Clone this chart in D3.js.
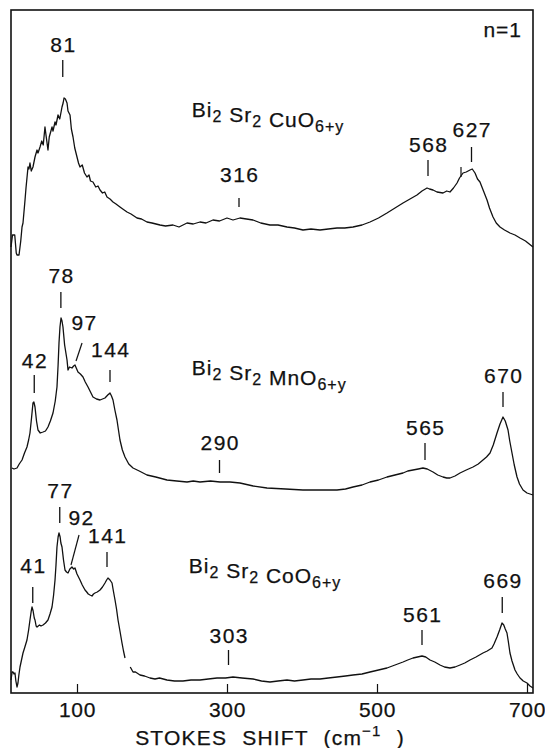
<!DOCTYPE html>
<html>
<head>
<meta charset="utf-8">
<script src="https://cdn.jsdelivr.net/npm/d3@7"></script>
<style>
  html, body { margin: 0; padding: 0; background: #fff; }
  svg { display: block; }
  text { font-family: "Liberation Sans", Arial, Helvetica, sans-serif; fill: #111; stroke: #111; stroke-width: 0.25px; }
</style>
</head>
<body>
<svg id="chart" width="545" height="748"></svg>
<script>
// ---- data (x: Stokes shift in cm^-1, y: intensity in arbitrary units, spectra vertically offset) ----
const xTicks = [100, 300, 500, 700];
const xTickLabels = ["100", "300", "500", "700"];

const cuSpectrum = [
  [12,446],[14,458],[17,458],[19,440],[20,438],[22.7,438],[25,452],[26.7,466],[28,470],[30.7,493],[32,505],[34.7,526],[36,524],[37.3,530],[39,522],[41.3,526],
  [44,536],[46.7,543],[48,540],[50.7,546],[53,552],[55,548],[57.3,566],[59,556],[61.3,543],[63,556],[66.7,566],[68,562],[70.7,571],[72,568],[74.7,578],[77,574],
  [80,586],[81.5,590],[82.7,595],[84.5,594],[86.7,590],[88,582],[90.7,578],[92.5,564],[94.7,556],[97,545],[100,536],[102,530],[104,526],[107,528],[110,520],[113.3,516],
  [116,518],[118,512],[121.3,511],[125,506],[128,507],[130.7,503],[134,500],[137,501],[140,496],[144,494],[148,491],[152,489],[157.3,486],[161,484],[166.7,481],
  [172,479],[180,475],[186,474],[193.3,471],[200,470],[210.7,468],[218,467],[228,468],[236,466],[246.7,470],[255,469],[264,471],[272,470],[281.3,473],[290,472],
  [300,475],[308,473],[317.3,475],[326,474],[334.7,473],[345,470],[357.3,468],[368,468],[380,466],[390,465],[401.3,463],[412,464],[424,463],[435,464],
  [446.7,465],[457,465],[468,466],[480,468],[490.7,471],[502,475],[513.3,480],[524,485],[534.7,490],[544,494],[553.3,498],[560,502],[566.7,505],[570,504],
  [574.7,503],[580,501],[588,500],[593,502],[597.3,501],[602,505],[606.7,510],[610,515],[614.7,520],[619,521],[624,523],[627,524],[630.7,520],[634,514],
  [637.3,511],[642,502],[646.7,493],[650,485],[654.7,476],[659,470],[664,466],[670,463],[677.3,460],[684,458],[690.7,455],[698,452],[703,449],[708,446]
];

const mnSpectrum = [
  [13.3,225],[16,224],[20,225],[23,229],[26.7,233],[30,240],[33.3,246],[35.5,253],[37.3,260],[39.5,276],[41.3,290],[42.5,291],[44,286],[46,272],[48,263],
  [51,260],[54.7,261],[58,262],[61.3,266],[64.5,272],[68,280],[71,292],[73.3,306],[74.8,328],[76,350],[77.3,366],[78.7,375],[80,372],[81.3,366],[83.5,348],
  [86.7,333],[88,323],[90,326],[93.3,325],[95.5,327],[97.3,328],[99,325],[101.3,321],[104.5,319],[108,316],[111,311],[114.7,306],[118,301],[121.3,296],
  [126,294],[130.7,293],[134,294],[137.3,295],[141,298],[144,300],[146,297],[148,293],[150.5,283],[153.3,273],[155.5,262],[157.3,253],[160.5,243],[164,236],
  [169,229],[174.7,225],[183,222],[193.3,218],[205,216],[220,213],[233,212],[246.7,211],[255,212],[264,211],[278,212],[290.7,211],[304,211],[317.3,210],
  [335,207],[353.3,205],[378,204],[401.3,203],[425,203],[446.7,203],[458,204],[468,206],[480,208],[490.7,211],[502,213],[513.3,216],[524,218],[534.7,220],
  [541,222],[548,223],[555,224],[561.3,225],[567,224],[574.7,221],[581,218],[588,216],[593,215],[597.3,215],[604,217],[610.7,220],[619,223],[628,226],
  [635,229],[641.3,233],[646,236],[650.7,240],[655,248],[660,260],[664,269],[668,276],[671,272],[674.7,263],[677,252],[680,240],[683,228],[686.7,216],
  [690,209],[694.7,203],[700,200],[708,198]
];

// null marks the gap in the recorded CoO spectrum
const coSpectrum = [
  [12,13],[13.5,21],[14.7,21],[16,19],[17.3,20],[18.5,12],[20,6],[21.3,10],[22.5,18],[24,26],[26,33],[28,40],[30.5,46],[33.3,53],[35.5,63],[37.3,73],[39,82],
  [40,86],[41.5,82],[43,75],[44,73],[45.5,67],[46.7,66],[50,68],[52,67],[54.7,68],[58,70],[61.3,73],[64,79],[66.7,86],[68.8,98],[70.7,113],[72,128],[73.3,146],
  [74.8,156],[76,160],[77.5,156],[78.5,150],[80,146],[82,133],[84,123],[86,121],[88,120],[90.5,124],[93.3,126],[95.5,124],[97.3,125],[100,119],[102,116],
  [104,113],[107,108],[110.7,103],[113,101],[115,99],[117.3,98],[120,97],[122,99],[124,100],[127,101],[130.7,103],[134,106],[137.3,110],[139.5,113],[141.3,115],
  [144,113],[146.7,110],[148.5,102],[150.7,93],[152.7,84],[154.7,73],[157.5,61],[160,50],[162,42],[164,35],
  null,
  [171,26],[174.7,21],[178,21],[184,18],[190,17],[197.3,15],[204,14],[210,15],[220,13],[230,12],[241.3,12],[252,13],[264,13],[275,14],[286.7,15],[298,15],
  [308,16],[320,15],[334.7,14],[346,12],[357.3,11],[368,12],[380,13],[390,12],[401.3,13],[412,14],[424,14],[435,15],[446.7,16],[458,17],[468,18],[480,19],
  [490.7,21],[502,23],[513.3,25],[524,28],[534.7,31],[541,33],[548,35],[554,36],[560,37],[565,36],[570.7,33],[577,31],[584,28],[590,26],[597.3,25],[604,26],
  [610.7,28],[617,30],[624,33],[632,36],[641.3,40],[647,42],[653.3,45],[656,49],[660,56],[663.5,63],[666.7,70],[669,68],[671,64],[673.3,60],[675,52],[677.3,40],
  [680,32],[684,23],[687,19],[690.7,15],[695,12],[700,10],[704,7],[708,5]
];

// peak annotations: label, tick position (cm^-1), tick start/end intensity, label baseline
const peakLabels = ["81", "316", "568", "627", "42", "78", "144", "290", "565", "670", "41", "77", "141", "303", "561", "669"];
const peakX      = [81, 316, 568, 626, 43, 78.5, 144, 290, 564, 668, 41, 77, 140, 302, 560, 667];
const tickLow    = [616, 486, 517, 531, 300, 385, 311, 220, 233, 286, 90, 170, 126, 28, 48, 80];
const tickHigh   = [633, 495, 533, 546, 318, 401, 323, 233, 250, 301, 106, 186, 141, 43, 63, 96];
const labelY     = [641, 511, 541, 556, 325, 410, 336, 243, 258, 310, 120, 195, 150, 50, 71, 105];

// slanted leader labels
const slantLabels = ["97", "92"];
const slantLabelX = [110, 106];
const slantLabelY = [363, 168];
const slantFrom   = [[106.7, 350], [102.7, 158]];
const slantTo     = [[98.7, 332], [92, 128]];

// unlabeled shoulder mark in the CuO spectrum
const extraTickX = [612];
const extraTickLow = [516];
const extraTickHigh = [526];

// compound names: [main, subscript] pairs
const compoundParts = [
  [["Bi","2"],[" Sr","2"],[" CuO","6+y"]],
  [["Bi","2"],[" Sr","2"],[" MnO","6+y"]],
  [["Bi","2"],[" Sr","2"],[" CoO","6+y"]]
];
const compoundX = [253, 253, 249];
const compoundY = [576, 318, 120];

// ---- drawing ----
const svg = d3.select("#chart");
const mLeft = 11, mRight = 533, mTop = 10, mBottom = 693;
const x = d3.scaleLinear().domain([12, 708]).range([mLeft, mRight]);
const y = d3.scaleLinear().domain([0, 683]).range([mBottom, mTop]);

const line = d3.line()
  .defined(d => d !== null)
  .x(d => x(d[0])).y(d => y(d[1]));

[cuSpectrum, mnSpectrum, coSpectrum].forEach(s => {
  svg.append("path").datum(s)
    .attr("d", line)
    .attr("fill", "none")
    .attr("stroke", "#111")
    .attr("stroke-width", 1.3)
    .attr("stroke-linejoin", "round");
});

// frame
svg.append("rect")
  .attr("x", mLeft).attr("y", mTop)
  .attr("width", mRight - mLeft).attr("height", mBottom - mTop)
  .attr("fill", "none").attr("stroke", "#111").attr("stroke-width", 1.6);

// bottom axis with inward ticks
const axis = d3.axisBottom(x)
  .tickValues(xTicks)
  .tickFormat((d, i) => xTickLabels[i])
  .tickSizeInner(-9).tickSizeOuter(0).tickPadding(9);
const gAxis = svg.append("g").attr("transform", `translate(0,${mBottom})`).call(axis);
gAxis.select(".domain").remove();
gAxis.selectAll(".tick line").attr("stroke", "#111").attr("stroke-width", 1.2);
gAxis.selectAll(".tick text")
  .attr("font-size", 21).attr("letter-spacing", 0.6)
  .attr("font-family", "'Liberation Sans', Arial, sans-serif")
  .attr("fill", "#111");

// axis title
const title = svg.append("text")
  .attr("x", 270).attr("y", 745)
  .attr("text-anchor", "middle")
  .attr("font-size", 21)
  .attr("letter-spacing", 1.2)
  .attr("word-spacing", 8);
title.append("tspan").text("STOKES SHIFT (cm");
title.append("tspan").attr("font-size", 15).attr("dy", -9).text("\u22121");
title.append("tspan").attr("dy", 9).text(" )");

// n=1
svg.append("text").attr("x", 522).attr("y", 37)
  .attr("text-anchor", "end").attr("font-size", 21).attr("letter-spacing", 1)
  .text("n=1");

// peak labels + ticks
peakLabels.forEach((lab, i) => {
  svg.append("line")
    .attr("x1", x(peakX[i])).attr("x2", x(peakX[i]))
    .attr("y1", y(tickLow[i])).attr("y2", y(tickHigh[i]))
    .attr("stroke", "#111").attr("stroke-width", 1.3);
  svg.append("text")
    .attr("x", x(peakX[i]) + 0.7).attr("y", y(labelY[i]))
    .attr("text-anchor", "middle").attr("font-size", 21).attr("letter-spacing", 1.4)
    .text(lab);
});

slantLabels.forEach((lab, i) => {
  svg.append("line")
    .attr("x1", x(slantFrom[i][0])).attr("y1", y(slantFrom[i][1]))
    .attr("x2", x(slantTo[i][0])).attr("y2", y(slantTo[i][1]))
    .attr("stroke", "#111").attr("stroke-width", 1.2);
  svg.append("text")
    .attr("x", x(slantLabelX[i])).attr("y", y(slantLabelY[i]))
    .attr("text-anchor", "middle").attr("font-size", 21).attr("letter-spacing", 1.4)
    .text(lab);
});

extraTickX.forEach((v, i) => {
  svg.append("line")
    .attr("x1", x(v)).attr("x2", x(v))
    .attr("y1", y(extraTickLow[i])).attr("y2", y(extraTickHigh[i]))
    .attr("stroke", "#111").attr("stroke-width", 1.2);
});

// compound names with subscripts
compoundParts.forEach((parts, i) => {
  const t = svg.append("text")
    .attr("x", x(compoundX[i])).attr("y", y(compoundY[i]))
    .attr("font-size", 21).attr("letter-spacing", 1);
  parts.forEach(([main, sub]) => {
    t.append("tspan").text(main);
    t.append("tspan").attr("font-size", 16).attr("dy", 5).text(sub);
    t.append("tspan").attr("dy", -5).text("");
  });
});
</script>
</body>
</html>
